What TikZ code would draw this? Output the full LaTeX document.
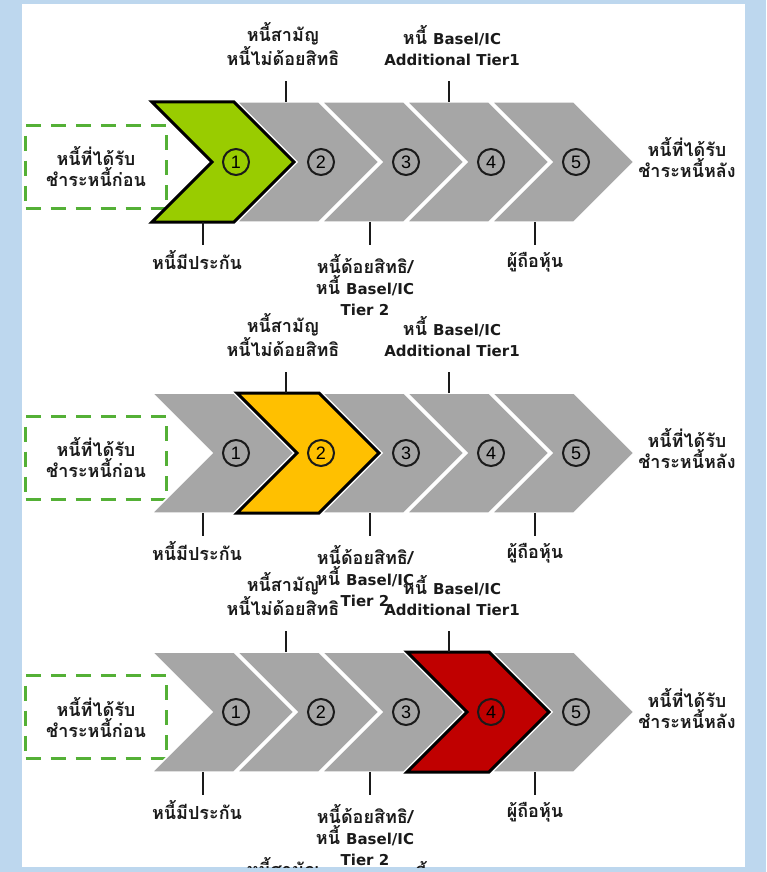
\documentclass[tikz,border=0pt]{standalone}
\usepackage{fontspec}
\setmainfont{DejaVu Sans}
\newfontfamily\thaifont[Script=Thai, Scale=1.2]{Loma}
\newfontfamily\latfont{DejaVu Sans}
\newfontfamily\numfont{Liberation Sans}
\newcommand\lat[1]{{\latfont\bfseries #1}}
\usetikzlibrary{positioning}
\definecolor{bgblue}{RGB}{189,215,238}
\definecolor{chevgray}{RGB}{166,166,166}
\definecolor{senior}{RGB}{153,204,0}
\definecolor{subord}{RGB}{255,192,0}
\definecolor{hybrid}{RGB}{192,0,0}
\definecolor{dashgreen}{RGB}{84,176,54}
\definecolor{ink}{RGB}{26,26,26}

\begin{document}
\begin{tikzpicture}[x=1pt, y=-1pt,
  lbl/.style={align=center, text=ink, inner sep=0pt,
              font=\thaifont\bfseries\fontsize{15}{21}\selectfont},
  num/.style={draw=ink, circle, line width=2pt, minimum size=26pt,
              inner sep=0pt, font=\numfont\fontsize{18}{18}\selectfont},
  chev/.style={fill=chevgray, draw=white, line width=1.5pt},
  hot/.style={draw=black, line width=3pt, line join=miter},
  endbox/.style={draw=dashgreen, dash pattern=on 15pt off 10pt, line width=3pt,
              minimum width=141pt, minimum height=83pt},
  tick/.style={draw=ink, line width=1.8pt}]
\def\chev#1#2#3{%
  \path[#3] ({#1},{#2-60}) -- ++(82,0) -- ++(60,60) -- ++(-60,60) -- ++(-82,0) -- ++(60,-60) -- cycle;}
\def\row#1#2#3#4{%
  \node[endbox] (f#1) at (96,#2+5) {};
  \node[lbl] (g#1) at (f#1) {หนี้ที่ได้รับ\\ชำระหนี้ก่อน};
  \foreach \k in {1,...,5} {\chev{152+85*(\k-1)}{#2}{chev}}
  \chev{152+85*(#3-1)}{#2}{hot, fill=#4}
  \foreach \k in {1,...,5} {\node[num] (n#1\k) at ({236+85*(\k-1)},#2) {\k};}
  \node[lbl] (h#1) at (687,#2-4) {หนี้ที่ได้รับ\\ชำระหนี้หลัง};
  \node[lbl] (a#1) at (283,#2-118) {หนี้สามัญ\\หนี้ไม่ด้อยสิทธิ};
  \node[lbl] (b#1) at (452,#2-116) {หนี้ \lat{Basel/IC}\\\lat{Additional Tier1}};
  \node[lbl] (c#1) at (197,#2+98) {หนี้มีประกัน};
  \node[lbl] (d#1) at (365,#2+123) {หนี้ด้อยสิทธิ/\\หนี้ \lat{Basel/IC}\\\lat{Tier 2}};
  \node[lbl] (e#1) at (535,#2+100) {ผู้ถือหุ้น};
  \coordinate (ta#1) at (286,#2-60); \coordinate (ua#1) at (286,#2-81);
  \coordinate (tb#1) at (449,#2-60); \coordinate (ub#1) at (449,#2-81);
  \coordinate (tc#1) at (203,#2+60); \coordinate (uc#1) at (203,#2+83);
  \coordinate (td#1) at (370,#2+60); \coordinate (ud#1) at (370,#2+83);
  \coordinate (te#1) at (535,#2+60); \coordinate (ue#1) at (535,#2+83);
  \draw[tick] (ta#1) -- (ua#1); \draw[tick] (tb#1) -- (ub#1);
  \draw[tick] (tc#1) -- (uc#1); \draw[tick] (td#1) -- (ud#1);
  \draw[tick] (te#1) -- (ue#1);}
\useasboundingbox (0,0) rectangle (766,872);
\fill[bgblue] (0,0) rectangle (766,872);
\fill[white] (22,4) rectangle (745,867);
\begin{scope}
\clip (22,4) rectangle (745,867);
\row{1}{162}{1}{senior}
\row{2}{453}{2}{subord}
\row{3}{712}{4}{hybrid}
\node[lbl] (a4) at (283,879) {หนี้สามัญ\\หนี้ไม่ด้อยสิทธิ};
\node[lbl] (b4) at (452,882) {หนี้ \lat{Basel/IC}\\\lat{Additional Tier1}};
\end{scope}
\end{tikzpicture}
\end{document}
